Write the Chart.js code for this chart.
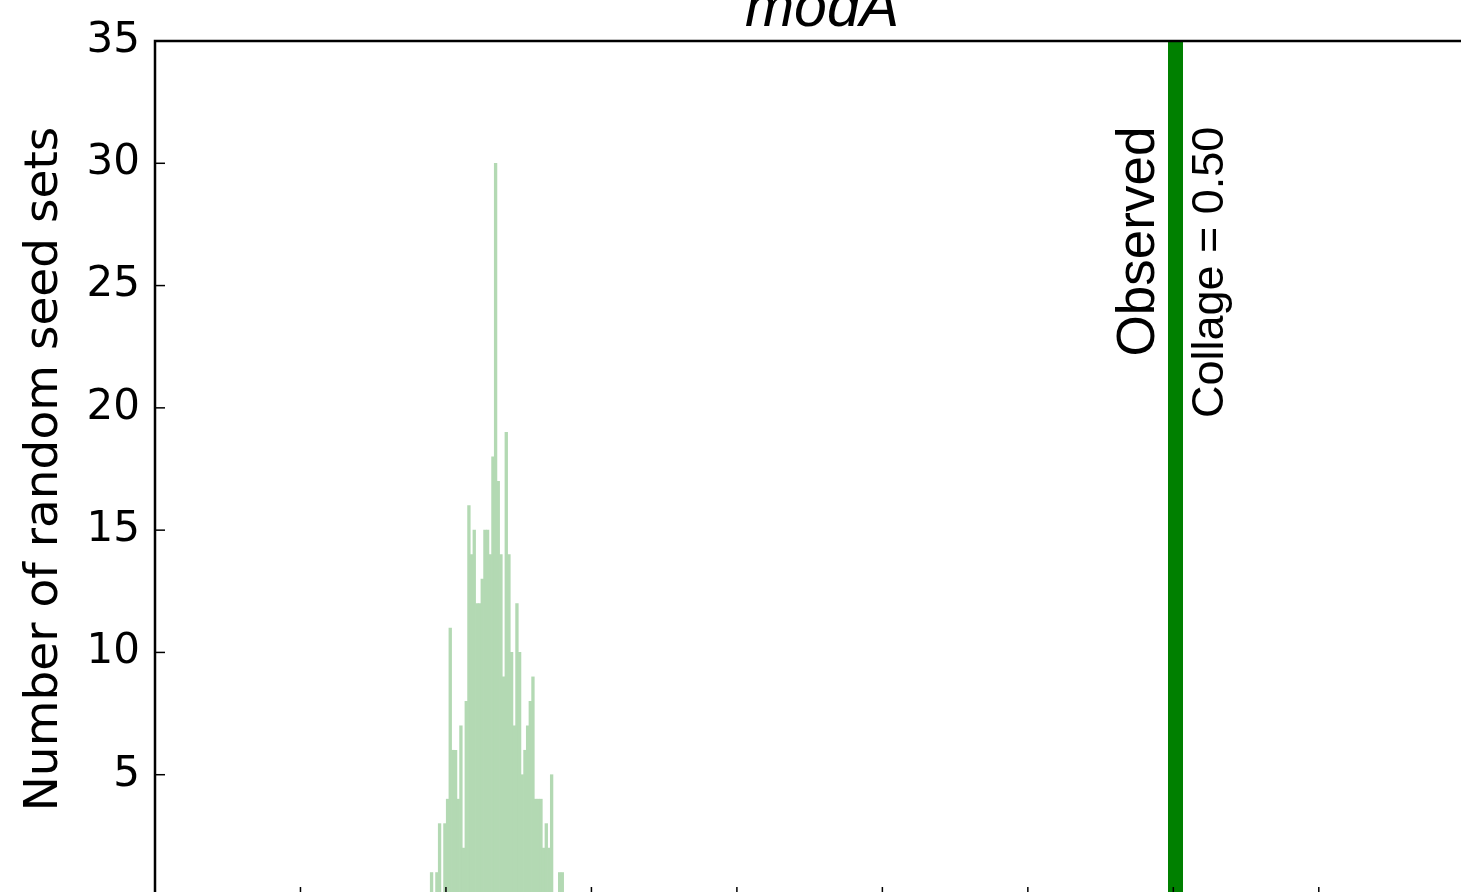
<!DOCTYPE html>
<html>
<head>
<meta charset="utf-8">
<script src="https://cdn.jsdelivr.net/npm/chart.js@4.4.1/dist/chart.umd.min.js"></script>
<style>
  html, body { margin: 0; padding: 0; background: #fff; overflow: hidden; }
  #wrap { position: absolute; left: 0; top: -27px; width: 1600px; height: 1000px; }
</style>
</head>
<body>
<div id="wrap"><canvas id="chart"></canvas></div>
<script>
// chart values
const titleText = 'modA';
const yAxisLabel = 'Number of random seed sets';
const binStart = -0.0108;   // left edge of the first histogram bin
const binWidth = 0.001834;
const binCounts = [1, 0, 1, 3, 0, 3, 4, 11, 6, 6,
                   4, 7, 2, 8, 16, 14, 15, 12, 12, 13,
                   15, 15, 14, 18, 30, 17, 14, 9, 19, 14,
                   10, 7, 12, 10, 5, 6, 7, 8, 9, 4,
                   4, 4, 2, 3, 2, 5, 0, 0, 1, 1];
const observedCollage = 0.5015;
const xMin = -0.2, xMax = 0.717, xStep = 0.1;
const yMin = 0, yMax = 35, yStep = 5;
const markerLabelY = 31.5;

const histData = binCounts.map((c, i) => ({ x: binStart + binWidth * (i + 0.5), y: c }));

// matplotlib-like frame: title over the axes, left/top spines, inward ticks
const framePlugin = {
    id: 'frame',
    afterDraw(chart) {
        const { ctx, chartArea: a, scales: { x, y } } = chart;
        ctx.save();
        ctx.fillStyle = '#000';
        ctx.textAlign = 'center';
        ctx.textBaseline = 'alphabetic';
        ctx.font = 'italic 59px "Liberation Sans"';
        ctx.fillText(titleText, (a.left + a.right) / 2, a.top - 15);

        ctx.strokeStyle = '#000';
        ctx.lineWidth = 1.5;
        x.ticks.forEach(t => {
            const px = x.getPixelForValue(t.value);
            ctx.beginPath();
            ctx.moveTo(px, a.bottom);
            ctx.lineTo(px, a.bottom - 10);
            ctx.stroke();
        });
        y.ticks.forEach(t => {
            const py = y.getPixelForValue(t.value);
            ctx.beginPath();
            ctx.moveTo(a.left, py);
            ctx.lineTo(a.left + 10, py);
            ctx.stroke();
        });
        ctx.lineWidth = 2.5;
        ctx.strokeRect(a.left, a.top, a.right - a.left, a.bottom - a.top);
        ctx.restore();
    }
};

// the rotated text on both sides of the observed line
const markerText = {
    id: 'markerText',
    afterDatasetsDraw(chart) {
        const { ctx, scales: { x, y } } = chart;
        const px = x.getPixelForValue(observedCollage);
        const py = y.getPixelForValue(markerLabelY);
        ctx.save();
        ctx.fillStyle = '#000';
        ctx.textAlign = 'right';
        ctx.textBaseline = 'alphabetic';

        ctx.save();
        ctx.translate(px - 22, py);
        ctx.rotate(-Math.PI / 2);
        ctx.font = '53px "Liberation Sans"';
        ctx.fillText('Observed', 0, 0);
        ctx.restore();

        ctx.save();
        ctx.translate(px + 47, py);
        ctx.rotate(-Math.PI / 2);
        ctx.font = '45px "Liberation Sans"';
        ctx.fillText('Collage = ' + observedCollage.toFixed(2), 0, 0);
        ctx.restore();

        ctx.restore();
    }
};

new Chart(document.getElementById('chart'), {
    type: 'bar',
    data: {
        datasets: [
            {
                type: 'line',
                data: [{ x: observedCollage, y: yMin }, { x: observedCollage, y: yMax }],
                borderColor: '#008000',
                borderWidth: 15,
                borderCapStyle: 'butt',
                pointRadius: 0
            },
            {
                data: histData,
                backgroundColor: '#b3d9b3',
                borderWidth: 0,
                barPercentage: 1,
                categoryPercentage: 1
            }
        ]
    },
    options: {
        responsive: true,
        maintainAspectRatio: false,
        animation: false,
        layout: { padding: { left: 0, right: 111, top: 68, bottom: 76 } },
        plugins: {
            legend: { display: false },
            tooltip: { enabled: false },
            title: { display: false }
        },
        scales: {
            x: {
                type: 'linear',
                offset: false,
                min: xMin,
                max: xMax,
                ticks: { display: false, stepSize: xStep },
                grid: { display: false, drawTicks: false, offset: false },
                border: { display: false },
                afterFit: s => { s.height = 0; }
            },
            y: {
                min: yMin,
                max: yMax,
                ticks: {
                    stepSize: yStep,
                    padding: 15,
                    color: '#000',
                    font: { family: 'DejaVu Sans', size: 42 },
                    callback: v => v === 0 ? '' : v
                },
                grid: { display: false, drawTicks: false },
                border: { display: false },
                title: {
                    display: true,
                    text: yAxisLabel,
                    color: '#000',
                    font: { family: 'DejaVu Sans', size: 47 },
                    padding: { top: 17, bottom: 0 }
                },
                afterFit: s => { s.width = 155; }
            }
        }
    },
    plugins: [framePlugin, markerText]
});
</script>
</body>
</html>
